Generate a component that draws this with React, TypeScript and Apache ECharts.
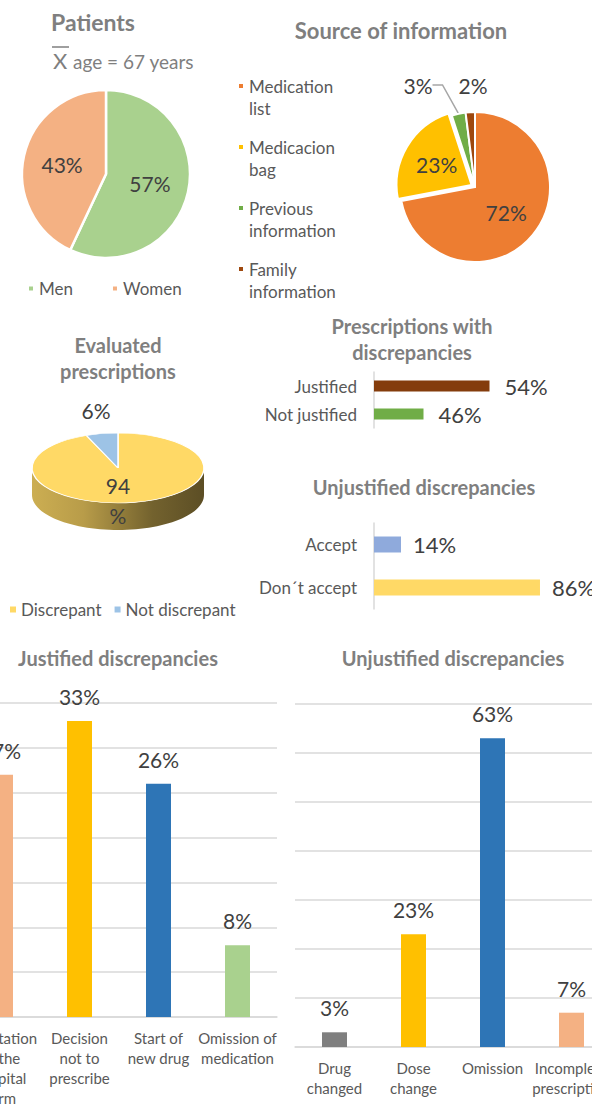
import React, { useEffect, useRef } from 'react';
import * as echarts from 'echarts';

const FONT = 'Lato, "Open Sans", sans-serif';

const patientLabels = ['Men', 'Women'];
const patientValues = [57, 43];
const patientColors = ['#a9d18e', '#f4b183'];

const sourceLabels = ['Medication list', 'Medicacion bag', 'Previous information', 'Family information'];
const sourceValues = [72, 23, 3, 2];
const sourceColors = ['#ed7d31', '#ffc000', '#70ad47', '#9e480e'];

const evalLabels = ['Discrepant', 'Not discrepant'];
const evalValues = [94, 6];
const evalColors = ['#ffd966', '#9dc3e6'];

const withDiscLabels = ['Justified', 'Not justified'];
const withDiscValues = [54, 46];
const withDiscColors = ['#843c0c', '#70ad47'];

const acceptLabels = ['Accept', 'Don\u00b4t accept'];
const acceptValues = [14, 86];
const acceptColors = ['#8faadc', '#ffd966'];

const justLabels = ['Adaptation\nto the\nhospital\nform', 'Decision\nnot to\nprescribe', 'Start of\nnew drug', 'Omission of\nmedication'];
const justValues = [27, 33, 26, 8];
const justColors = ['#f4b183', '#ffc000', '#2e75b6', '#a9d18e'];

const unjLabels = ['Drug\nchanged', 'Dose\nchange', 'Omission', 'Incomplete\nprescription'];
const unjValues = [3, 23, 63, 7];
const unjColors = ['#7f7f7f', '#ffc000', '#2e75b6', '#f4b183'];

const TITLE_COLOR = '#7f7f7f';
const TEXT_COLOR = '#595959';
const LABEL_COLOR = '#404040';
const GRID_COLOR = '#d9d9d9';

// The chart canvas is wider than the page (39px hidden on the left, 60px on
// the right) so the outer bars are cut like in the reference.
const OX = 39;
const EXTRA_RIGHT = 60;
const X = (x: number) => x + OX;

function mkTitle(text: string, x: number, y: number, size = 20) {
  return {
    text,
    left: X(x),
    top: y,
    textAlign: 'center',
    padding: 0,
    textStyle: { fontFamily: FONT, fontSize: size, fontWeight: 'bold', color: TITLE_COLOR, lineHeight: 26 },
  };
}

function colored(values: number[], colors: string[]) {
  return values.map((v, i) => ({ value: v, itemStyle: { color: colors[i] } }));
}

function shade(hex: string, f: number) {
  const h = hex.replace('#', '');
  const r = Math.round(parseInt(h.slice(0, 2), 16) * f);
  const g = Math.round(parseInt(h.slice(2, 4), 16) * f);
  const b = Math.round(parseInt(h.slice(4, 6), 16) * f);
  return `rgb(${r},${g},${b})`;
}

const PIE3D = { cx: 118, cy: 468, rx: 86, ry: 35, depth: 27 };
const evalLabelOffsets = [[0, 32], [-22, -58]];

function buildOption(): any {
  const evalTotal = evalValues.reduce((a, b) => a + b, 0);
  const k = PIE3D.ry / PIE3D.rx;

  const pie3dSeries = evalLabels.map((name, i) => ({
    type: 'custom',
    name,
    coordinateSystem: 'none',
    silent: true,
    itemStyle: { color: evalColors[i] },
    data: [[evalValues[i]]],
    renderItem: (params: any, api: any) => {
      const v = api.value(0);
      let cum = 0;
      for (let j = 0; j < i; j++) cum += evalValues[j];
      const a0 = -Math.PI / 2 + (2 * Math.PI * cum) / evalTotal;
      const a1 = a0 + (2 * Math.PI * v) / evalTotal;
      const r = PIE3D.rx;
      const D = PIE3D.depth / k;
      const inner: any[] = [];
      const ranges = [[0, Math.PI], [2 * Math.PI, 3 * Math.PI], [-2 * Math.PI, -Math.PI]];
      ranges.forEach(([s, e]) => {
        const ss = Math.max(s, a0);
        const ee = Math.min(e, a1);
        if (ee > ss) {
          const pts: number[][] = [];
          const n = 60;
          for (let t = 0; t <= n; t++) {
            const ang = ss + ((ee - ss) * t) / n;
            pts.push([r * Math.cos(ang), r * Math.sin(ang)]);
          }
          for (let t = n; t >= 0; t--) {
            const ang = ss + ((ee - ss) * t) / n;
            pts.push([r * Math.cos(ang), r * Math.sin(ang) + D]);
          }
          const c = evalColors[i];
          inner.push({
            type: 'polygon',
            shape: { points: pts },
            style: {
              fill: new echarts.graphic.LinearGradient(0, 0, 1, 0, [
                { offset: 0, color: shade(c, 0.8) },
                { offset: 0.3, color: shade(c, 0.72) },
                { offset: 0.7, color: shade(c, 0.45) },
                { offset: 1, color: shade(c, 0.36) },
              ]),
            },
          });
        }
      });
      inner.push({
        type: 'sector',
        shape: { cx: 0, cy: 0, r, r0: 0, startAngle: a0, endAngle: a1, clockwise: true },
        style: { fill: evalColors[i], stroke: '#ffffff', lineWidth: 1.5 },
      });
      const [dx, dy] = evalLabelOffsets[i];
      return {
        type: 'group',
        children: [
          { type: 'group', x: X(PIE3D.cx), y: PIE3D.cy, scaleY: k, children: inner },
          {
            type: 'text',
            x: X(PIE3D.cx + dx),
            y: PIE3D.cy + dy,
            style: {
              text: i === 0 ? v + '\n%' : v + '%',
              fontFamily: FONT,
              fontSize: 21,
              lineHeight: 30,
              fill: LABEL_COLOR,
              align: 'center',
              verticalAlign: 'middle',
            },
          },
        ],
      };
    },
  }));

  const legendBase = {
    padding: 0,
    icon: 'rect',
    itemWidth: 6,
    itemHeight: 6,
    textStyle: { fontFamily: FONT, fontSize: 17, color: TEXT_COLOR },
  };

  return {
    animation: false,
    backgroundColor: '#ffffff',
    title: [
      mkTitle('Patients', 93, 9, 23),
      mkTitle('Source of information', 401, 17, 22),
      mkTitle('Evaluated\nprescriptions', 118, 332),
      mkTitle('Prescriptions with\ndiscrepancies', 412, 313),
      mkTitle('Unjustified discrepancies', 424, 474),
      mkTitle('Justified discrepancies', 118, 645),
      mkTitle('Unjustified discrepancies', 453, 645),
    ],
    graphic: [
      { type: 'text', x: X(53), y: 60, style: { text: 'X', fontFamily: FONT, fontSize: 22, fill: TITLE_COLOR, verticalAlign: 'middle' } },
      { type: 'line', shape: { x1: X(52), y1: 47, x2: X(69), y2: 47 }, style: { stroke: TITLE_COLOR, lineWidth: 1.5 } },
      { type: 'text', x: X(73), y: 61, style: { text: 'age = 67 years', fontFamily: FONT, fontSize: 19, fill: TITLE_COLOR, verticalAlign: 'middle' } },
    ],
    legend: [
      { ...legendBase, data: patientLabels, left: X(27), top: 280, itemGap: 38 },
      {
        ...legendBase,
        data: sourceLabels,
        orient: 'vertical',
        left: X(237),
        top: 53,
        itemGap: -5,
        // a blank first line keeps the marker level with the first text line
        formatter: (n: string) => ' \n' + n.replace(' ', '\n'),
        textStyle: { ...legendBase.textStyle, lineHeight: 22 },
      },
      { ...legendBase, data: evalLabels, left: X(10), top: 601, itemGap: 13 },
    ],
    grid: [
      { left: X(374), top: 372, width: 165, height: 56 },
      { left: X(374), top: 523, width: 193, height: 86 },
      { left: X(-39), top: 703, width: 316, height: 319 },
      { left: X(295), top: 704, width: 316, height: 343 },
    ],
    xAxis: [
      { type: 'value', gridIndex: 0, min: 40, max: 60, show: false },
      { type: 'value', gridIndex: 1, min: 0, max: 100, show: false },
      {
        type: 'category', gridIndex: 2, data: justLabels,
        axisLine: { lineStyle: { color: GRID_COLOR, width: 1.5 } }, axisTick: { show: false },
        axisLabel: { interval: 0, fontFamily: FONT, fontSize: 15, lineHeight: 20, color: TEXT_COLOR, margin: 11 },
      },
      {
        type: 'category', gridIndex: 3, data: unjLabels,
        axisLine: { lineStyle: { color: GRID_COLOR, width: 1.5 } }, axisTick: { show: false },
        axisLabel: { interval: 0, fontFamily: FONT, fontSize: 15, lineHeight: 20, color: TEXT_COLOR, margin: 11 },
      },
    ],
    yAxis: [
      {
        type: 'category', gridIndex: 0, data: withDiscLabels, inverse: true,
        axisLine: { lineStyle: { color: GRID_COLOR, width: 1.5 } }, axisTick: { show: false },
        axisLabel: { fontFamily: FONT, fontSize: 17, color: TEXT_COLOR, margin: 17 },
      },
      {
        type: 'category', gridIndex: 1, data: acceptLabels, inverse: true,
        axisLine: { lineStyle: { color: GRID_COLOR, width: 1.5 } }, axisTick: { show: false },
        axisLabel: { fontFamily: FONT, fontSize: 17, color: TEXT_COLOR, margin: 17 },
      },
      {
        type: 'value', gridIndex: 2, min: 0, max: 35, interval: 5,
        axisLabel: { show: false }, axisLine: { show: false }, axisTick: { show: false },
        splitLine: { lineStyle: { color: GRID_COLOR, width: 1.5 } },
      },
      {
        type: 'value', gridIndex: 3, min: 0, max: 70, interval: 10,
        axisLabel: { show: false }, axisLine: { show: false }, axisTick: { show: false },
        splitLine: { lineStyle: { color: GRID_COLOR, width: 1.5 } },
      },
    ],
    series: [
      {
        type: 'pie',
        name: 'Patients',
        center: [X(106), 174],
        radius: 84,
        startAngle: 90,
        clockwise: true,
        silent: true,
        itemStyle: { borderColor: '#ffffff', borderWidth: 2.5 },
        label: { position: 'inside', formatter: '{c}%', fontFamily: FONT, fontSize: 21, color: LABEL_COLOR },
        labelLine: { show: false },
        data: patientLabels.map((n, i) => ({ name: n, value: patientValues[i], itemStyle: { color: patientColors[i] } })),
      },
      {
        type: 'pie',
        name: 'Source',
        center: [X(475), 187],
        radius: 75,
        startAngle: 90,
        clockwise: true,
        selectedMode: 'single',
        selectedOffset: 4,
        itemStyle: { borderColor: '#ffffff', borderWidth: 2 },
        label: { position: 'inside', formatter: '{c}%', fontFamily: FONT, fontSize: 21, color: LABEL_COLOR },
        labelLine: { show: false },
        labelLayout: (p: any) => {
          if (p.dataIndex === 2) return { x: X(418), y: 85, align: 'center', verticalAlign: 'middle' };
          if (p.dataIndex === 3) return { x: X(473), y: 85, align: 'center', verticalAlign: 'middle' };
          return {};
        },
        data: sourceLabels.map((n, i) => ({
          name: n,
          value: sourceValues[i],
          selected: i === 1,
          itemStyle: { color: sourceColors[i] },
          ...(i >= 2
            ? {
                label: { position: 'outside' },
                labelLine: { show: i === 2, length: 15, length2: 10, lineStyle: { color: '#a6a6a6', width: 1.5 } },
              }
            : {}),
        })),
      },
      ...pie3dSeries,
      {
        type: 'bar', xAxisIndex: 0, yAxisIndex: 0, barWidth: 11, silent: true,
        data: colored(withDiscValues, withDiscColors),
        label: { show: true, position: 'right', distance: 15, formatter: '{c}%', fontFamily: FONT, fontSize: 22, color: LABEL_COLOR },
      },
      {
        type: 'bar', xAxisIndex: 1, yAxisIndex: 1, barWidth: 16, silent: true,
        data: colored(acceptValues, acceptColors),
        label: { show: true, position: 'right', distance: 12, formatter: '{c}%', fontFamily: FONT, fontSize: 22, color: LABEL_COLOR },
      },
      {
        type: 'bar', xAxisIndex: 2, yAxisIndex: 2, barWidth: 25, silent: true,
        data: colored(justValues, justColors),
        label: { show: true, position: 'top', distance: 14, formatter: '{c}%', fontFamily: FONT, fontSize: 21, color: LABEL_COLOR },
      },
      {
        type: 'bar', xAxisIndex: 3, yAxisIndex: 3, barWidth: 25, silent: true,
        data: colored(unjValues, unjColors),
        label: { show: true, position: 'top', distance: 14, formatter: '{c}%', fontFamily: FONT, fontSize: 21, color: LABEL_COLOR },
      },
    ],
  };
}

export default function App() {
  const ref = useRef<HTMLDivElement>(null);
  useEffect(() => {
    document.body.style.margin = '0';
    document.body.style.overflow = 'hidden';
    if (!ref.current) return;
    const chart = echarts.init(ref.current, undefined, { renderer: 'svg' });
    chart.setOption(buildOption());
    return () => chart.dispose();
  }, []);
  return (
    <div
      ref={ref}
      style={{ width: 592 + OX + EXTRA_RIGHT, height: 1108, position: 'absolute', left: -OX, top: 0 }}
    />
  );
}
